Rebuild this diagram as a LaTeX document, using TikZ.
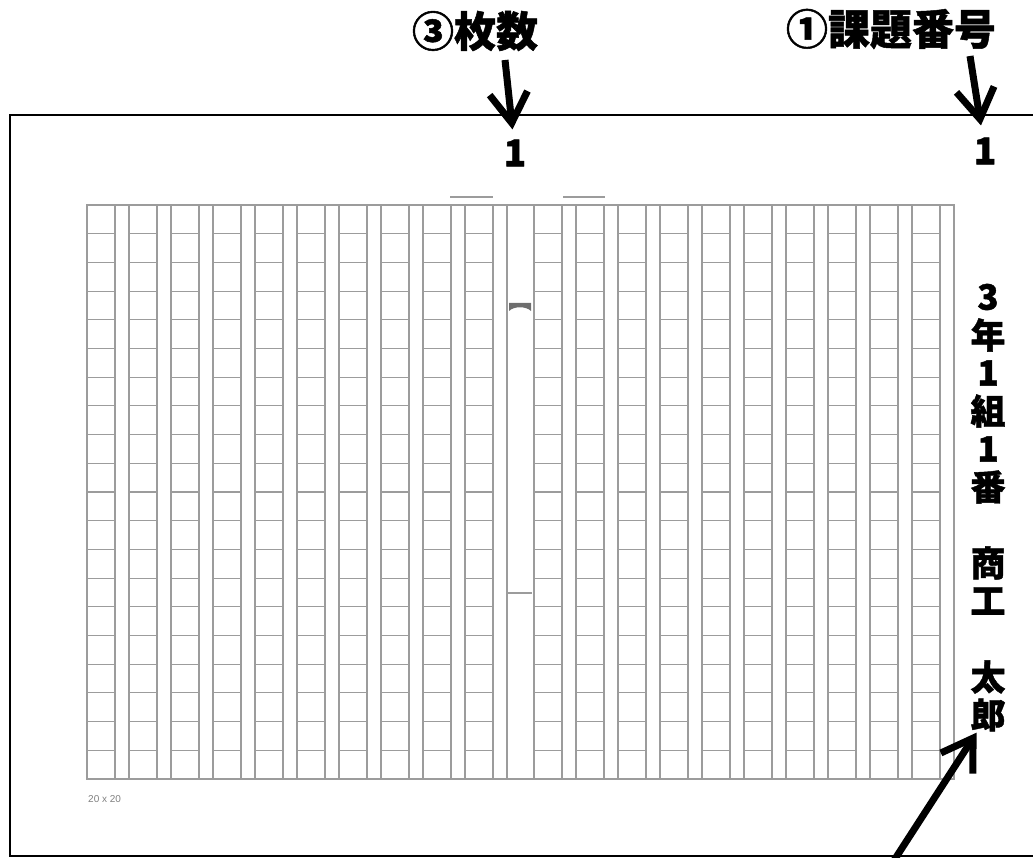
\documentclass[tikz,border=0pt]{standalone}
\usepackage{fontspec}
\usepackage[rgb]{xcolor}
\usepackage{tikz}
\usetikzlibrary{arrows.meta}
\newfontfamily\jfont{Noto Sans CJK JP Black}[FakeBold=1.2]
\newfontfamily\sansfont{Liberation Sans}
\definecolor{gridgray}{HTML}{9C9C9C}
\definecolor{markgray}{HTML}{6E6E6E}

\begin{document}
\begin{tikzpicture}[x=1pt, y=-1pt,
  gridline/.style={gridgray, line width=1.1pt},
  frameline/.style={black, line width=2.2pt},
  bigarrow/.style={-{Straight Barb[length=30pt, width=38pt]}, line width=7pt},
  biglabel/.style={font=\jfont\fontsize{42}{42}\selectfont, inner sep=2pt},
  bignum/.style={font=\jfont\fontsize{37}{37}\selectfont, inner sep=2pt},
  namechar/.style={font=\jfont\fontsize{35}{35}\selectfont, inner sep=1pt}]

\useasboundingbox (0,0) rectangle (1033,858);

%% outer frame, open on the right
\draw[frameline] (1040,115) -- (10,115) -- (10,856) -- (1040,856);

%% manuscript sheet, 20 x 20, two halves of ten columns
\draw[gridline] (87,205) rectangle (954,779);
\draw[gridline] (507,205) -- (507,779);
\foreach \side in {87, 534}
 {
 \foreach \i in {0,...,9}
  {
  \draw[gridline] ({\side+42*\i},205) -- ({\side+42*\i},779);
  \draw[gridline] ({\side+42*\i+28},205) -- ({\side+42*\i+28},779);
  \foreach \j in {1,...,19}
   \draw[gridline] ({\side+42*\i},{205+28.7*\j}) -- ({\side+42*\i+28},{205+28.7*\j});
  }
 }

% small marks on the centre strip
\draw[gridline, line width=1.6pt] (450,197) -- (493,197);
\draw[gridline, line width=1.6pt] (563,197) -- (605,197);
\fill[markgray] (509,303) -- (531,303) -- (531,311) .. controls (526,306) and (514,306) .. (509,311) -- cycle;
\draw[gridline, line width=1.6pt] (508,593) -- (532,593);

\path
(88,799) node [anchor=west, text=gray, inner sep=0pt, font=\sansfont\fontsize{10}{11}\selectfont] (gridsize){20 x 20};

%% labels and the numbers written on the sheet
\path
(475,31) node [biglabel] (countlabel){③枚数};
\path
(891,29) node [biglabel] (tasklabel){①課題番号};
\path
(515,153) node [bignum] (countnum){1};
\path
(985,151) node [bignum] (tasknum){1};

% class, number and name, top to bottom
\foreach \c [count=\k] in {3,年,1,組,1,番,{},商,工,{},太,郎}
 {
 \path
 (988,{297+38*(\k-1)}) node [namechar] (name\k){\c};
 }

%% arrows
\coordinate (counttail) at (505,60);
\coordinate (tasktail) at (970,56);
\coordinate (nametail) at (893,862);
\draw[bigarrow, shorten >=8pt] (counttail) -- (countnum);
\draw[bigarrow, shorten >=10pt] (tasktail) -- (tasknum);
\draw[bigarrow] (nametail) -- (name12);

\end{tikzpicture}
\end{document}
